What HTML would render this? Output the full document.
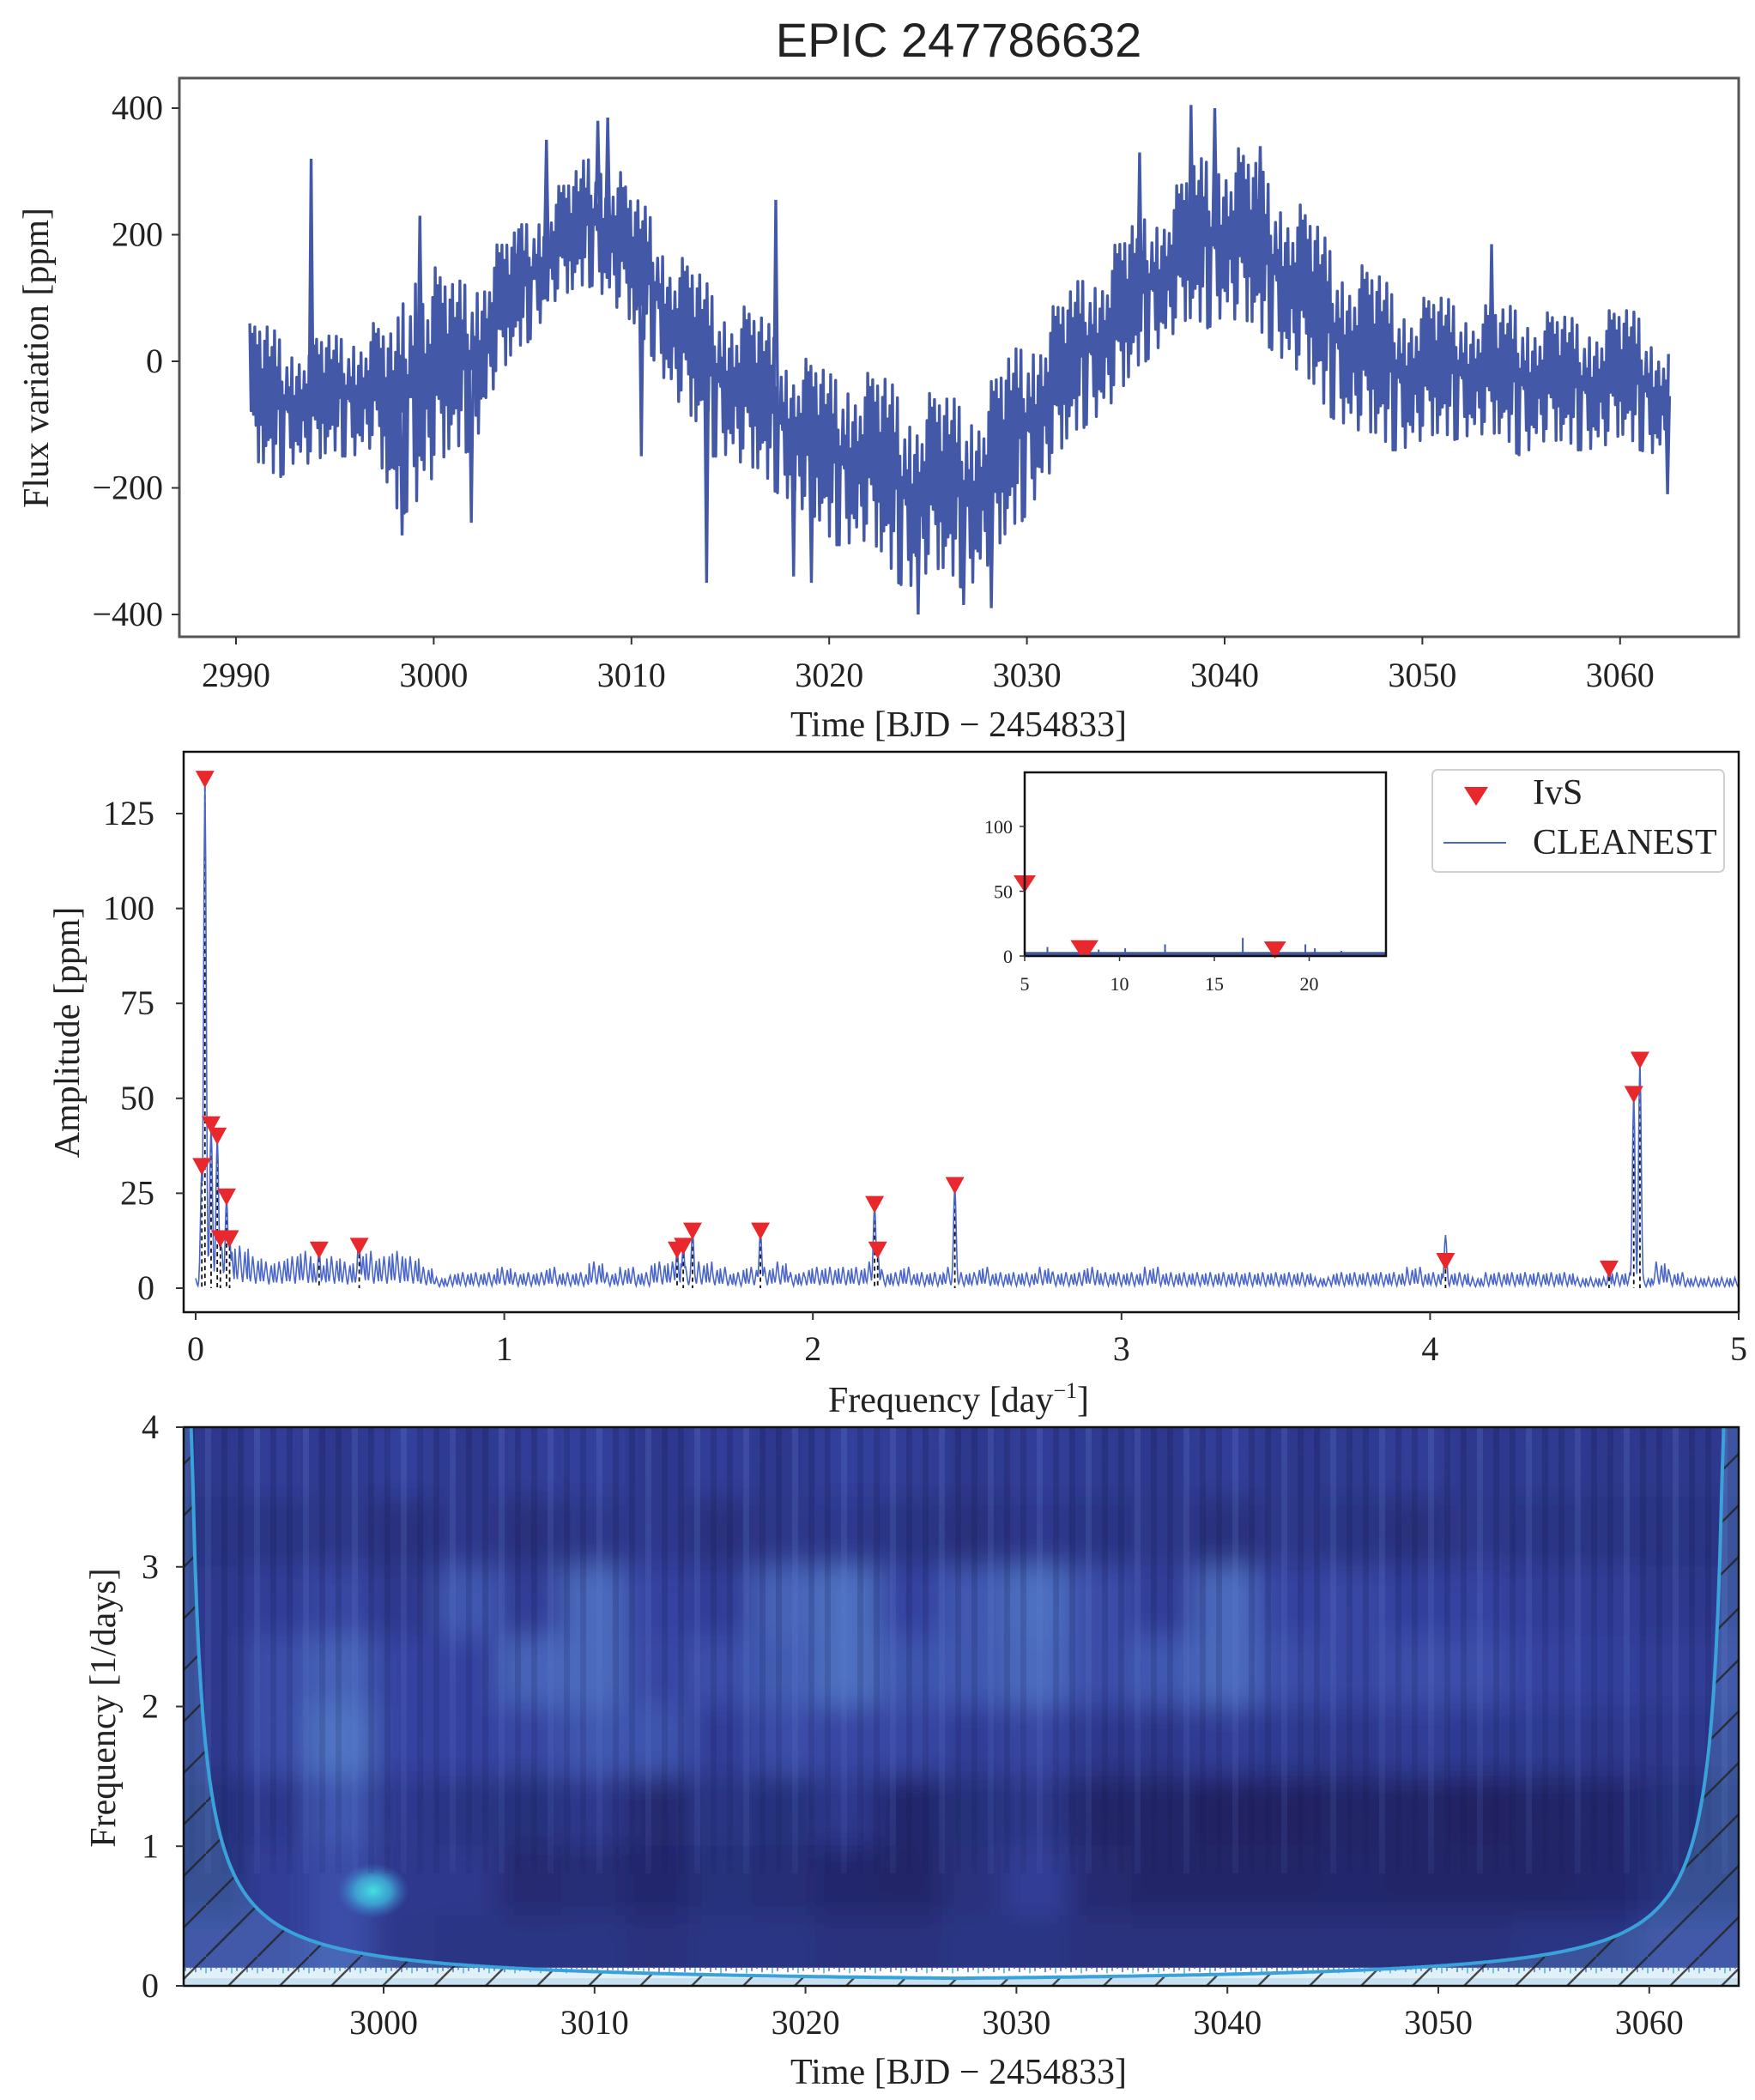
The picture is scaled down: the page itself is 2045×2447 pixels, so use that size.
<!DOCTYPE html>
<html><head><meta charset="utf-8"><style>
html,body{margin:0;padding:0;background:#fff;}
svg{display:block;}
.tk{font-family:"Liberation Serif",serif;font-size:40px;fill:#222;}
.lb{font-family:"Liberation Serif",serif;font-size:42px;fill:#222;}
.it{font-family:"Liberation Serif",serif;font-size:22px;fill:#222;}
</style></head><body>
<svg id="fig" width="2045" height="2447" viewBox="0 0 2045 2447" xmlns="http://www.w3.org/2000/svg">
<defs>
<clipPath id="c1"><rect x="209" y="91" width="1817" height="651"/></clipPath>
<clipPath id="c2"><rect x="214" y="876" width="1812" height="653"/></clipPath>
<clipPath id="c3"><rect x="214" y="1663" width="1812" height="651"/></clipPath>
<filter id="blur" x="-10%" y="-10%" width="120%" height="120%"><feGaussianBlur stdDeviation="16"/></filter>
<pattern id="hatch" width="60" height="60" patternUnits="userSpaceOnUse"><path d="M0,60 L60,0" stroke="#222" stroke-width="2.5"/></pattern>
<radialGradient id="blob"><stop offset="0" stop-color="#45e0e0"/><stop offset="0.5" stop-color="#3fb4dc" stop-opacity="0.8"/><stop offset="1" stop-color="#3f80d0" stop-opacity="0"/></radialGradient>
<linearGradient id="stripefade" x1="0" y1="0" x2="0" y2="1"><stop offset="0" stop-color="#fff" stop-opacity="1"/><stop offset="0.7" stop-color="#fff" stop-opacity="0.6"/><stop offset="1" stop-color="#fff" stop-opacity="0"/></linearGradient>
<mask id="sm"><rect x="214" y="1663" width="1812" height="651" fill="url(#stripefade)"/></mask>
</defs>
<text x="1117" y="66" text-anchor="middle" font-family="Liberation Sans, sans-serif" font-size="56" fill="#222">EPIC 247786632</text>
<g id="p1"></g>
<g id="p2"></g>
<g id="p3"></g>
</svg>
<script>
// ---- light curve data ----
const lcDays=[];for(let d=2991;d<=3062;d++)lcDays.push(d);
const lcHi=[60,50,40,40,40,60,60,40,200,150,120,150,180,200,240,270,290,340,330,260,240,180,150,120,100,80,60,20,0,-20,0,-20,-30,-50,-50,-60,-50,-40,0,50,80,100,150,170,200,240,260,290,330,350,330,300,280,240,200,170,150,130,110,100,100,100,90,80,100,80,70,70,80,80,80,40];
const lcLo=[-170,-190,-160,-170,-150,-150,-140,-250,-230,-190,-150,-140,-50,0,40,90,100,120,90,50,10,-50,-100,-150,-150,-180,-200,-220,-250,-290,-290,-290,-340,-360,-340,-350,-360,-330,-290,-240,-190,-140,-100,-80,-50,0,30,50,50,70,50,30,0,-30,-80,-100,-120,-140,-140,-130,-130,-120,-120,-130,-150,-130,-140,-140,-140,-130,-140,-150];
const spikeT=[2993.8,2999.3,3004.3,3005.7,3008.3,3008.8,3017.3,3010.5,3019.1,3024.5,3026.8,3038.3,3039.5,3035.7,3053.5,3062.4,2998.4,3001.9,3013.8,3018.2,3041.8,3028.2];
const spikeV=[320,230,210,350,380,385,255,-150,-350,-400,-385,405,400,330,185,-210,-275,-255,-350,-340,340,-390];
const lcXTicks=[2990,3000,3010,3020,3030,3040,3050,3060];
const lcYTicks=[-400,-200,0,200,400];
// ---- periodogram data ----
const specNoise=[2,4,8,8,6,5,6,7,5,6,5,7,6,7,6,4, 2,3,3,3,4,3,3,4,3,3,5,3,4,3,5,5, 4,5,4,3,4,4,5,3,4,4,4,4,5,3,4,3,3,4, 3,4,3,3,3,4,3,3,4,3,3,3,4,3,3,3,3,3,3,3, 3,3,3,2,3,3,3,3,3,4,3,3,3,2,3,3,3,3,3,3, 2,2,3,3,2,5,3,2,2,2,2];
const peakF=[0.02,0.03,0.05,0.07,0.10,0.08,0.11,0.40,0.53,1.56,1.58,1.61,1.83,2.20,2.21,2.46,4.05,4.58,4.66,4.68];
const peakA=[32,134,43,40,24,13,13,10,11,10,11,15,15,22,10,27,14,5,51,60];
const ivsF=[0.02,0.03,0.05,0.07,0.10,0.08,0.11,0.40,0.53,1.56,1.58,1.61,1.83,2.20,2.21,2.46,4.05,4.58,4.66,4.68];
const ivsA=[32,134,43,40,24,13,13,10,11,10,11,15,15,22,10,27,7,5,51,60];
const spXTicks=[0,1,2,3,4,5];
const spYTicks=[0,25,50,75,100,125];
const inF=[5.0,8.0,8.3,18.2];
const inA=[55,5,5,4];
const inSpikeF=[6.2,8.9,10.3,12.4,16.5,19.8,20.3,21.7];
const inSpikeA=[7,5,6,9,14,9,6,4];
const inXTicks=[5,10,15,20];
const inYTicks=[0,50,100];
// ---- wavelet data ----
const wvT=[2992,2995,2998,3001,3004,3007,3010,3013,3016,3019,3022,3025,3028,3031,3034,3037,3040,3043,3046,3049,3052,3055,3058,3061];
const wvF=[3.75,3.25,2.75,2.25,1.75,1.25,0.75,0.25];
const wvR0=[.3,.35,.3,.38,.3,.35,.38,.3,.36,.3,.38,.35,.3,.36,.32,.3,.36,.3,.32,.35,.3,.32,.3,.3];
const wvR1=[.25,.25,.28,.22,.3,.22,.28,.3,.22,.28,.3,.25,.22,.3,.25,.28,.22,.28,.25,.22,.28,.25,.25,.25];
const wvR2=[.3,.35,.42,.3,.5,.35,.58,.4,.35,.55,.6,.4,.5,.6,.45,.35,.58,.4,.42,.38,.4,.35,.35,.3];
const wvR3=[.3,.45,.55,.4,.4,.55,.58,.42,.45,.52,.6,.48,.5,.58,.45,.5,.58,.45,.42,.45,.45,.4,.38,.35];
const wvR4=[.3,.45,.62,.4,.4,.42,.5,.48,.35,.45,.42,.42,.35,.42,.3,.3,.35,.32,.3,.35,.32,.32,.3,.3];
const wvR5=[.2,.3,.5,.3,.25,.2,.3,.15,.25,.2,.3,.12,.2,.28,.1,.1,.08,.08,.1,.1,.08,.1,.12,.2];
const wvR6=[.2,.35,.45,.3,.3,.15,.18,.12,.2,.18,.12,.1,.22,.35,.15,.1,.1,.1,.12,.1,.1,.1,.12,.2];
const wvR7=[.35,.35,.45,.28,.25,.25,.25,.22,.25,.25,.22,.22,.25,.25,.22,.22,.22,.22,.22,.22,.22,.25,.25,.35];
const wvXTicks=[3000,3010,3020,3030,3040,3050,3060];
const wvYTicks=[0,1,2,3,4];

const NS="http://www.w3.org/2000/svg";
function mk(tag,attrs,parent){const e=document.createElementNS(NS,tag);for(const k in attrs)e.setAttribute(k,attrs[k]);parent.appendChild(e);return e;}
function txt(s,x,y,cls,parent,anchor){const t=mk('text',{x:x,y:y,class:cls,'text-anchor':anchor||'middle'},parent);t.textContent=s;return t;}

// ===== Panel 1 =====
const p1=document.getElementById('p1');
const x1=t=>275+(t-2990)*23.04, y1=v=>421-v*0.7375;
{
 const g=mk('g',{'clip-path':'url(#c1)'},p1);
 const amp=[1,0.3,0.85,0.1,0.95,0.5,0.7,0.2,0.9,0.65,0.4,0.05,0.8,0.35,1,0.55,0.6,0.15,0.75,0.45,0.98,0.25,0.5,0.7,0.88];
 let pts=[];
 const interp=(arr,t)=>{let i=Math.floor(t-2991);if(i<0)return arr[0];if(i>=arr.length-1)return arr[arr.length-1];const f=t-2991-i;return arr[i]*(1-f)+arr[i+1]*f;};
 for(let t=2990.7;t<=3062.5;t+=0.0625){
   const k=Math.round((t-2990.7)/0.0625);
   const hi=interp(lcHi,t), lo=interp(lcLo,t), mid=(hi+lo)/2;
   const a=amp[k%amp.length];
   const v= (k%2===0)? mid+(hi-mid)*a : mid-(mid-lo)*amp[(k*7)%amp.length];
   pts.push(x1(t).toFixed(1)+','+y1(v).toFixed(1));
 }
 const pl=mk('polyline',{points:pts.join(' '),fill:'none',stroke:'#4358a6','stroke-width':3.4,'stroke-linejoin':'round'},g);
 
 
 spikeT.forEach((t,i)=>{
   const hi=interp(lcHi,t), lo=interp(lcLo,t), mid=(hi+lo)/2;
   const s=mk('polyline',{points:`${x1(t-0.1)},${y1(mid)} ${x1(t)},${y1(spikeV[i])} ${x1(t+0.1)},${y1(mid)}`,fill:'none',stroke:'#4358a6','stroke-width':3.4},g);
   
   
 });
 const fr=mk('rect',{x:209,y:91,width:1817,height:651,fill:'none',stroke:'#555','stroke-width':3},p1);
 
 
 lcXTicks.forEach(t=>{mk('line',{x1:x1(t),x2:x1(t),y1:742,y2:751,stroke:'#333','stroke-width':2},p1);
   const l=txt(t,x1(t),800,'tk',p1);});
 lcYTicks.forEach(v=>{mk('line',{x1:200,x2:209,y1:y1(v),y2:y1(v),stroke:'#333','stroke-width':2},p1);
   const l=txt(v<0?'\u2212'+(-v):v,190,y1(v)+13,'tk',p1,'end');});
 const xl=txt('Time [BJD \u2212 2454833]',1117,858,'lb',p1);
 const yl=txt('Flux variation [ppm]',0,0,'lb',p1);yl.setAttribute('transform','translate(56,417) rotate(-90)');
 
}

// ===== Panel 2 =====
const p2=document.getElementById('p2');
const x2=f=>228+f*359.6, y2=a=>1501-a*4.424;
{
 const g=mk('g',{'clip-path':'url(#c2)'},p2);
 ivsF.forEach((f,i)=>{const l=mk('line',{x1:x2(f),x2:x2(f),y1:y2(ivsA[i]),y2:y2(0),stroke:'#111','stroke-width':1.8,'stroke-dasharray':'5,4'},g);
   });
 let pts=[];const wig=[1.3,0.9,0.5,0.3,0.6,1.0,1.4,1.1,0.7,0.4,0.2,0.5,0.9,1.2,0.8,0.5,0.3];
 for(let k=0;k<=2000;k++){
   const f=k*0.0025;
   const i=Math.min(specNoise.length-1,Math.round(f/0.05));
   let v=specNoise[i]*wig[k%wig.length];
   peakF.forEach((pf,j)=>{const d=(f-pf)/0.006;const pv=peakA[j]*Math.exp(-d*d);if(pv>v)v=pv;});
   pts.push(x2(f).toFixed(1)+','+y2(v).toFixed(1));
 }
 const pl=mk('polyline',{points:pts.join(' '),fill:'none',stroke:'#4a66c8','stroke-width':1.6},g);
 
 ivsF.forEach((f,i)=>{const x=x2(f),y=y2(ivsA[i]);
   const tr=mk('path',{d:`M${x-11},${y-10} L${x+11},${y-10} L${x},${y+10} Z`,fill:'#e8282d'},g);
   });
 const fr=mk('rect',{x:214,y:876,width:1812,height:653,fill:'none',stroke:'#111','stroke-width':2.5},p2);
 
 spXTicks.forEach(f=>{mk('line',{x1:x2(f),x2:x2(f),y1:1529,y2:1538,stroke:'#333','stroke-width':2},p2);
   const l=txt(f,x2(f),1585,'tk',p2);});
 spYTicks.forEach(a=>{mk('line',{x1:205,x2:214,y1:y2(a),y2:y2(a),stroke:'#333','stroke-width':2},p2);
   const l=txt(a,180,y2(a)+13,'tk',p2,'end');});
 const xl=mk('text',{x:1117,y:1645,class:'lb','text-anchor':'middle'},p2);
 xl.innerHTML='Frequency [day<tspan font-size="26" dy="-16">\u22121</tspan><tspan dy="16">]</tspan>';
 
 const yl=txt('Amplitude [ppm]',0,0,'lb',p2);yl.setAttribute('transform','translate(92,1203) rotate(-90)');
 
 const xi=f=>1194+(f-5)*22.1, yi=a=>1114-a*1.51;
 const ig=mk('g',{},p2);
 mk('rect',{x:1194,y:900,width:421,height:214,fill:'#fff'},ig);
 mk('line',{x1:1194,x2:1615,y1:yi(1.5),y2:yi(1.5),stroke:'#4358a6','stroke-width':5},ig);
 inSpikeF.forEach((f,i)=>{const l=mk('line',{x1:xi(f),x2:xi(f),y1:yi(0),y2:yi(inSpikeA[i]),stroke:'#4358a6','stroke-width':2},ig);
   });
 inF.forEach((f,i)=>{const x=xi(f),y=yi(inA[i]);
   const tr=mk('path',{d:`M${x-13},${y-11} L${x+13},${y-11} L${x},${y+9} Z`,fill:'#e8282d'},ig);
   });
 mk('rect',{x:1194,y:900,width:421,height:214,fill:'none',stroke:'#111','stroke-width':2.5},ig);
 inXTicks.forEach(f=>{mk('line',{x1:xi(f),x2:xi(f),y1:1114,y2:1120,stroke:'#333','stroke-width':1.5},ig);
   const l=txt(f,xi(f),1154,'it',ig);});
 inYTicks.forEach(a=>{mk('line',{x1:1188,x2:1194,y1:yi(a),y2:yi(a),stroke:'#333','stroke-width':1.5},ig);
   const l=txt(a,1180,yi(a)+8,'it',ig,'end');});
 const lg=mk('g',{},p2);
 mk('rect',{x:1669,y:897,width:340,height:119,rx:6,fill:'#fff',stroke:'#d0d0d0','stroke-width':2},lg);
 const lt=mk('path',{d:'M1706,917 L1734,917 L1720,939 Z',fill:'#e8282d'},lg);
 const t1=txt('IvS',1786,937,'lb',lg,'start');t1.setAttribute('font-size','36');
 const ll=mk('line',{x1:1682,x2:1755,y1:982,y2:982,stroke:'#4a66c8','stroke-width':2},lg);
 const t2=txt('CLEANEST',1786,995,'lb',lg,'start');t2.setAttribute('font-size','36');
}

// ===== Panel 3 =====
const p3=document.getElementById('p3');
const x3=t=>447+(t-3000)*24.58, y3=f=>2314-f*162.75;
{
 const rows=[wvR0,wvR1,wvR2,wvR3,wvR4,wvR5,wvR6,wvR7];
 const stops=[[0,[28,29,85]],[0.4,[52,66,160]],[0.7,[90,134,208]],[1,[79,214,224]]];
 function col(v){for(let i=1;i<stops.length;i++){if(v<=stops[i][0]){const a=stops[i-1],b=stops[i];const f=(v-a[0])/(b[0]-a[0]);
   const c=a[1].map((q,j)=>Math.round(q+(b[1][j]-q)*f));return `rgb(${c})`;}}return 'rgb(79,214,224)';}
 const g=mk('g',{'clip-path':'url(#c3)'},p3);
 mk('rect',{x:214,y:1663,width:1812,height:651,fill:'#24266a'},g);
 const hg=mk('g',{filter:'url(#blur)'},g);
 rows.forEach((r,ri)=>{r.forEach((v,ci)=>{
   const cx=x3(wvT[ci]), cy=y3(wvF[ri]);
   const w=x3(3)-x3(0)+2, h=y3(0)-y3(0.5)+2;
   const c=mk('rect',{x:cx-w/2-(ci===0?80:0),y:cy-h/2-(ri===0?80:0),width:w+(ci===0||ci===r.length-1?80:0),height:h+(ri===0||ri===rows.length-1?80:0),fill:col(v)},hg);
   
 });});
 const bl=mk('ellipse',{cx:x3(2999.5),cy:y3(0.68),rx:42,ry:32,fill:'url(#blob)'},g);
 
 const sg=mk('g',{mask:'url(#sm)'},g);
 for(let x=220;x<2026;x+=19){mk('rect',{x:x,y:1663,width:7,height:520,fill:(x/19)%3<1?'#6a86d8':'#141545',opacity:0.22},sg);}
 mk('rect',{x:214,y:y3(0.13),width:1812,height:y3(0.05)-y3(0.13),fill:'#fff'},g);
 for(let x=216;x<2026;x+=6){mk('line',{x1:x,x2:x,y1:y3(0.13),y2:y3(0.09+((x*7)%5)*0.008),stroke:(x%5)?'#4a5fc8':'#3fb0d8','stroke-width':1.5},g);}
 mk('rect',{x:214,y:y3(0.05),width:1812,height:y3(0)-y3(0.05),fill:'#dfeaf3'},g);
 const t0=2990.4,t1=3064.0;let cp=[];
 for(let t=t0+0.45;t<=t1-0.45;t+=0.1){const f=Math.min(4.1,2/Math.min(t-t0,t1-t));cp.push([x3(t),y3(f)]);}
 const d='M214,1660 L'+cp.map(p=>p[0].toFixed(1)+','+p[1].toFixed(1)).join(' L')+' L2026,1660 L2026,2314 L214,2314 Z';
 const coiFill=mk('path',{d:d,fill:'rgba(120,190,230,0.22)'},g);
 mk('path',{d:d,fill:'url(#hatch)',opacity:0.8},g);
 const coi=mk('polyline',{points:cp.map(p=>p[0].toFixed(1)+','+p[1].toFixed(1)).join(' '),fill:'none',stroke:'#3aa2da','stroke-width':4},g);
 
 const fr=mk('rect',{x:214,y:1663,width:1812,height:651,fill:'none',stroke:'#111','stroke-width':2.5},p3);
 
 wvXTicks.forEach(t=>{mk('line',{x1:x3(t),x2:x3(t),y1:2314,y2:2323,stroke:'#333','stroke-width':2},p3);
   const l=txt(t,x3(t),2370,'tk',p3);});
 wvYTicks.forEach(f=>{mk('line',{x1:205,x2:214,y1:y3(f),y2:y3(f),stroke:'#333','stroke-width':2},p3);
   const l=txt(f,185,y3(f)+13,'tk',p3,'end');});
 const xl=txt('Time [BJD \u2212 2454833]',1117,2428,'lb',p3);
 const yl=txt('Frequency [1/days]',0,0,'lb',p3);yl.setAttribute('transform','translate(134,1990) rotate(-90)');
 
}
</script>
</body></html>
